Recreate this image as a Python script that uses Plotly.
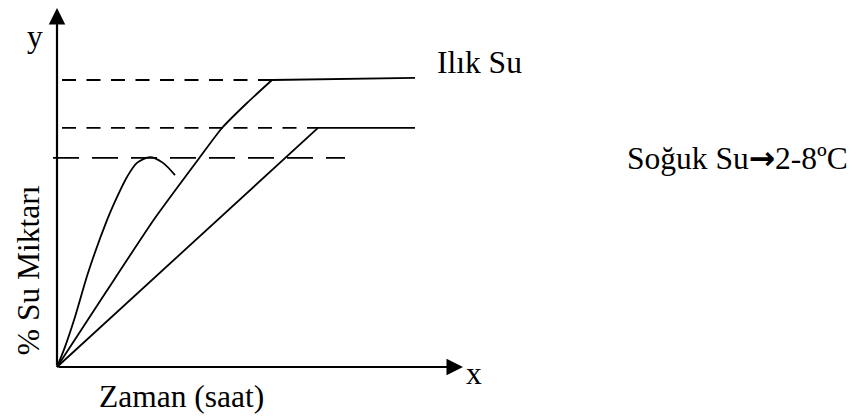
import plotly.graph_objects as go

# ---- data (time units, % water) ----
warm_x = [0.0, 1.225, 2.45, 3.575, 4.125, 4.75, 5.375]
warm_y = [0.0, 20.83, 41.39, 58.33, 66.39, 73.33, 79.72]
warm_plateau_x = [5.375, 8.95]
warm_plateau_y = [79.72, 80.3]

cold_x = [0.0, 6.525]
cold_y = [0.0, 66.4]
cold_plateau_x = [6.525, 8.95]
cold_plateau_y = [66.4, 66.4]

hump_x = [0.0, 0.2, 0.45, 0.775, 1.25, 1.5, 1.75, 2.0, 2.325, 2.65, 2.95]
hump_y = [0.0, 5.6, 13.9, 26.1, 40.8, 47.2, 52.8, 56.7, 58.3, 56.7, 53.3]

ref_top_x = [0.125, 5.375]
ref_top_y = [79.72, 79.72]
ref_mid_x = [0.125, 6.525]
ref_mid_y = [66.4, 66.4]
ref_low_x = [-0.1, 7.2]
ref_low_y = [58.1, 58.1]

x_axis_end = 10.15
y_axis_end = 99.7

labels = {
    "y": "y",
    "x": "x",
    "warm": "Ilık Su",
    "cold": "Soğuk Su<span style=\"font-family:DejaVu Sans;font-weight:bold\">→</span>2-8ºC",
    "xtitle": "Zaman (saat)",
    "ytitle": "% Su Miktarı",
}

FONT = "Liberation Serif, Times New Roman, serif"
FS = 31.5

fig = go.Figure()

def line(x, y, dash="solid", width=1.8, shape="linear", smoothing=1.0):
    fig.add_trace(go.Scatter(x=x, y=y, mode="lines",
                             line=dict(color="black", width=width, dash=dash,
                                       shape=shape, smoothing=smoothing),
                             hoverinfo="skip", showlegend=False))

line(ref_top_x, ref_top_y, dash="14px,10.5px")
line(ref_mid_x, ref_mid_y, dash="14px,10.5px")
line(ref_low_x, ref_low_y, dash="26px,13px")
line(warm_x, warm_y, shape="spline", smoothing=0.6)
line(warm_plateau_x, warm_plateau_y)
line(cold_x, cold_y)
line(cold_plateau_x, cold_plateau_y)
line(hump_x, hump_y, shape="spline", smoothing=0.8)

# axes with arrowheads
for (hx, hy) in [(x_axis_end, 0), (0, y_axis_end)]:
    fig.add_annotation(x=hx, y=hy, ax=0, ay=0, xref="x", yref="y", axref="x", ayref="y",
                       showarrow=True, arrowhead=2, arrowsize=1.5, arrowwidth=2.2,
                       arrowcolor="black", text="")

def txt(s, x, y, xanchor="center", angle=0):
    fig.add_annotation(x=x, y=y, xref="x", yref="y", text=s, showarrow=False,
                       xanchor=xanchor, yanchor="middle", textangle=angle,
                       font=dict(family=FONT, size=FS, color="black"))

txt(labels["y"], -0.55, 91.9)
txt(labels["x"], 10.425, -1.94)
txt(labels["warm"], 9.45, 84.7, xanchor="left")
txt(labels["cold"], 14.2, 58.06, xanchor="left")
txt(labels["xtitle"], 1.0, -8.33, xanchor="left")
txt(labels["ytitle"], -0.725, 26.9, angle=-90)

# page body has an 8px margin: figure occupies page pixels 8..856 x 8..416
fig.update_layout(
    width=848, height=408, margin=dict(l=0, r=0, t=0, b=0),
    paper_bgcolor="white", plot_bgcolor="white",
    xaxis=dict(range=[-1.225, 19.975], visible=False, fixedrange=True),
    yaxis=dict(range=[-13.611, 99.72], visible=False, fixedrange=True),
)

fig.write_html("out.html")
